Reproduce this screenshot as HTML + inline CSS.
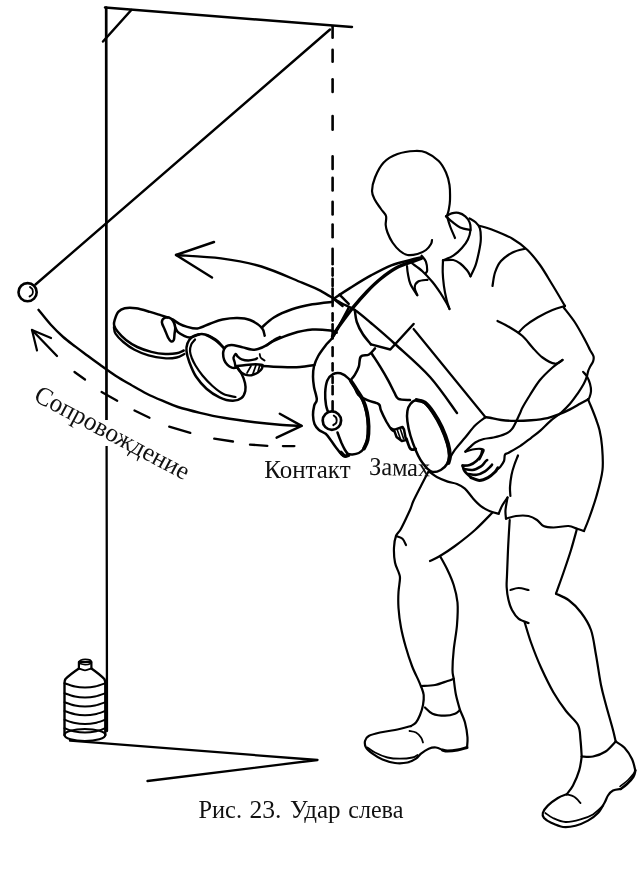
<!DOCTYPE html>
<html><head><meta charset="utf-8"><title>Рис. 23. Удар слева</title>
<style>
html,body{margin:0;padding:0;background:#fff;}
body{width:641px;height:871px;overflow:hidden;font-family:"Liberation Serif",serif;}
svg{display:block}
svg path,svg line,svg circle,svg ellipse{fill:none;stroke:#000;stroke-linecap:round;stroke-linejoin:round}
svg text{font-family:"Liberation Serif",serif;fill:#111;stroke:none}
#txt{opacity:.999;will-change:opacity}
</style></head><body>
<svg width="641" height="871" viewBox="0 0 641 871">
<rect x="0" y="0" width="641" height="871" fill="#fff" stroke="none"/>
<path d="M106.2 7.5L106.5 420.0" stroke-width="2.7" stroke-linecap="butt"/>
<path d="M106.6 446.0L107.0 731.0" stroke-width="2.3" stroke-linecap="butt"/>
<path d="M105.0 7.4L352.0 27.0" stroke-width="2.5" />
<path d="M103.0 41.5L131.3 10.0" stroke-width="2.5" />
<path d="M35.5 284.5L330.0 29.5" stroke-width="2.4" />
<path d="M332.6 26.3L332.6 37.7" stroke-width="2.6" stroke-linecap="butt"/>
<path d="M332.6 49.8L332.6 61.7" stroke-width="2.6" stroke-linecap="butt"/>
<path d="M332.6 79.3L332.6 92.0" stroke-width="2.6" stroke-linecap="butt"/>
<path d="M332.6 116.0L332.6 129.8" stroke-width="2.6" stroke-linecap="butt"/>
<path d="M332.6 156.4L332.6 169.0" stroke-width="2.6" stroke-linecap="butt"/>
<path d="M332.6 177.8L332.6 190.5" stroke-width="2.6" stroke-linecap="butt"/>
<path d="M332.6 201.8L332.6 214.4" stroke-width="2.6" stroke-linecap="butt"/>
<path d="M332.6 224.5L332.6 237.2" stroke-width="2.6" stroke-linecap="butt"/>
<path d="M332.6 248.8L332.6 264.3" stroke-width="2.6" stroke-linecap="butt"/>
<path d="M332.6 268.4L332.6 275.6" stroke-width="2.6" stroke-linecap="butt"/>
<path d="M332.6 278.7L332.6 286.0" stroke-width="2.6" stroke-linecap="butt"/>
<path d="M332.6 288.6L332.6 294.7" stroke-width="2.6" stroke-linecap="butt"/>
<path d="M332.6 296.3L332.6 306.0" stroke-width="2.6" stroke-linecap="butt"/>
<path d="M332.6 313.3L332.6 320.6" stroke-width="2.6" stroke-linecap="butt"/>
<path d="M332.6 324.2L332.6 338.4" stroke-width="2.6" stroke-linecap="butt"/>
<path d="M332.6 347.2L332.6 356.0" stroke-width="2.6" stroke-linecap="butt"/>
<path d="M332.6 363.2L332.6 370.5" stroke-width="2.6" stroke-linecap="butt"/>
<path d="M332.6 376.7L332.6 382.9" stroke-width="2.6" stroke-linecap="butt"/>
<path d="M332.6 386.0L332.6 394.2" stroke-width="2.6" stroke-linecap="butt"/>
<path d="M332.6 401.4L332.6 411.5" stroke-width="2.6" stroke-linecap="butt"/>
<path d="M70.0 740.7L317.5 760.0L147.5 781.0" stroke-width="2.3" />
<path d="M36.7 292.2A9.1 9.1 0 1 1 18.5 292.2A9.1 9.1 0 1 1 36.7 292.2Z" stroke-width="2.6" />
<path d="M30.0 287.0C30.4 287.4 32.1 288.3 32.5 289.5C32.9 290.7 33.0 292.8 32.5 294.0C32.0 295.2 30.0 296.1 29.5 296.5" stroke-width="1.8" />
<path d="M341.1 420.6A9.2 9.2 0 1 1 322.7 420.6A9.2 9.2 0 1 1 341.1 420.6Z" stroke-width="2.7" fill="#fff" style="fill:#fff"/>
<path d="M333.8 415.6C334.2 416.0 335.9 416.9 336.3 418.1C336.7 419.3 336.8 421.4 336.3 422.6C335.8 423.8 333.8 424.7 333.3 425.1" stroke-width="2" />
<path d="M176.0 255.0C183.5 255.6 206.8 256.5 221.0 258.4C235.2 260.3 247.9 262.4 261.4 266.5C274.9 270.6 292.2 278.7 302.0 282.7C311.8 286.7 313.9 287.2 320.3 290.6C326.7 294.0 334.9 299.6 340.6 302.8C346.4 306.0 349.7 306.6 354.8 310.0C359.9 313.4 364.3 317.3 371.0 323.0C377.7 328.7 385.2 335.0 395.0 344.0C404.8 353.0 419.7 365.5 430.0 377.0C440.3 388.5 452.5 407.0 457.0 413.0" stroke-width="2.4" />
<path d="M214.0 242.0L176.0 255.0L212.0 277.5" stroke-width="2.4" />
<path d="M38.5 309.8C40.5 312.2 46.5 320.0 50.6 324.5C54.7 329.0 59.0 333.3 63.2 337.0C67.4 340.7 71.7 343.7 75.8 346.9C79.9 350.1 84.0 353.0 88.0 356.0C92.0 359.0 95.4 361.5 100.0 364.8C104.6 368.1 110.4 372.3 115.6 375.7C120.8 379.1 126.0 382.0 131.2 385.0C136.4 388.0 141.6 391.1 146.8 393.7C152.0 396.3 157.2 398.5 162.4 400.7C167.6 402.9 171.7 405.0 178.0 407.0C184.3 409.0 192.4 411.0 200.0 412.8C207.6 414.6 214.5 416.2 223.6 417.8C232.7 419.4 245.4 421.1 254.8 422.3C264.2 423.5 272.0 424.2 279.8 424.8C287.6 425.4 298.0 425.7 301.6 425.9" stroke-width="2.4" />
<path d="M279.8 413.7L301.6 425.9L276.6 437.7" stroke-width="2.4" />
<path d="M51.0 338.0L32.0 330.0L37.0 350.5" stroke-width="2.2" />
<path d="M32.0 330.0L57.0 356.0" stroke-width="2.3" stroke-linecap="butt"/>
<path d="M74.5 372.0L85.0 379.5" stroke-width="2.3" stroke-linecap="butt"/>
<path d="M101.6 392.0L117.2 400.7" stroke-width="2.3" stroke-linecap="butt"/>
<path d="M134.5 410.5L149.5 417.7" stroke-width="2.3" stroke-linecap="butt"/>
<path d="M169.2 426.6L190.3 432.9" stroke-width="2.3" stroke-linecap="butt"/>
<path d="M214.2 438.7L233.0 441.5" stroke-width="2.3" stroke-linecap="butt"/>
<path d="M250.0 444.6L267.3 445.8" stroke-width="2.3" stroke-linecap="butt"/>
<path d="M282.9 446.1L294.4 446.1" stroke-width="2.3" stroke-linecap="butt"/>
<path d="M78.9 668.5L78.9 662.0L91.4 662.0L91.4 668.5" stroke-width="2.2" />
<path d="M78.9 662A6.25 2.6 0 1 1 91.4 662A6.25 2.6 0 1 1 78.9 662Z" stroke-width="1.7" />
<path d="M78.9 668.5C79.9 668.8 82.9 670.3 85.0 670.3C87.1 670.3 90.3 668.8 91.4 668.5" stroke-width="1.8" />
<path d="M78.9 668.5Q70 674.5 65.5 679Q64.5 680.5 64.5 683L64.5 735" stroke-width="2.4" />
<path d="M91.4 668.5Q100 674.5 104.3 679Q105.3 680.5 105.3 683L105.3 735" stroke-width="2.4" />
<path d="M64.5 683.2C66.2 683.8 71.6 685.8 75.0 686.5C78.4 687.2 81.7 687.4 85.0 687.4C88.3 687.4 91.6 687.2 95.0 686.5C98.4 685.8 103.6 683.8 105.3 683.2" stroke-width="2" />
<path d="M64.5 693.2C66.2 693.8 71.6 695.8 75.0 696.5C78.4 697.2 81.7 697.4 85.0 697.4C88.3 697.4 91.6 697.2 95.0 696.5C98.4 695.8 103.6 693.8 105.3 693.2" stroke-width="2" />
<path d="M64.5 702.2C66.2 702.8 71.6 704.8 75.0 705.5C78.4 706.2 81.7 706.4 85.0 706.4C88.3 706.4 91.6 706.2 95.0 705.5C98.4 704.8 103.6 702.8 105.3 702.2" stroke-width="2" />
<path d="M64.5 711.0C66.2 711.5 71.6 713.6 75.0 714.3C78.4 715.0 81.7 715.2 85.0 715.2C88.3 715.2 91.6 715.0 95.0 714.3C98.4 713.6 103.6 711.5 105.3 711.0" stroke-width="2" />
<path d="M64.5 719.8C66.2 720.3 71.6 722.4 75.0 723.1C78.4 723.8 81.7 724.0 85.0 724.0C88.3 724.0 91.6 723.8 95.0 723.1C98.4 722.4 103.6 720.3 105.3 719.8" stroke-width="2" />
<path d="M64.5 728.3C66.2 728.8 71.6 730.9 75.0 731.6C78.4 732.3 81.7 732.5 85.0 732.5C88.3 732.5 91.6 732.3 95.0 731.6C98.4 730.9 103.6 728.8 105.3 728.3" stroke-width="2" />
<path d="M64.5 735A20.4 6 0 1 0 105.3 735A20.4 6 0 1 0 64.5 735Z" stroke-width="2.2" />
<path d="M447.0 216.0C447.3 215.0 448.2 212.7 448.7 210.0C449.2 207.3 449.9 204.2 450.0 200.0C450.1 195.8 450.2 189.6 449.5 185.0C448.8 180.4 447.8 176.5 446.0 172.5C444.2 168.5 442.0 164.3 438.7 161.0C435.4 157.7 429.9 154.2 426.0 152.5C422.1 150.8 419.8 150.8 415.0 151.0C410.2 151.2 402.7 152.1 397.5 154.0C392.3 155.9 387.4 158.6 383.7 162.5C379.9 166.4 376.9 172.8 375.0 177.5C373.1 182.2 372.0 187.2 372.0 191.0C372.0 194.8 373.5 197.0 375.0 200.0C376.5 203.0 379.2 206.3 381.0 209.0C382.8 211.7 385.2 213.3 386.0 216.0C386.8 218.7 385.4 222.2 385.7 225.0C385.9 227.8 386.4 229.6 387.5 232.5C388.6 235.4 390.4 239.4 392.5 242.5C394.6 245.6 397.5 248.9 400.0 251.0C402.5 253.1 404.6 254.5 407.5 255.0C410.4 255.5 414.4 254.8 417.5 254.0C420.6 253.2 423.8 251.7 426.0 250.0C428.2 248.3 430.0 245.7 431.0 244.0C432.0 242.3 431.8 240.7 432.0 240.0" stroke-width="2.2" />
<path d="M447.0 216.0C447.5 217.7 448.7 222.3 450.0 226.0C451.3 229.7 454.2 236.0 455.0 238.0" stroke-width="2.2" />
<path d="M446.0 216.3C446.9 215.8 449.5 214.0 451.6 213.4C453.7 212.8 456.2 212.4 458.5 212.9C460.8 213.4 463.4 214.7 465.3 216.3C467.2 217.9 468.7 220.0 469.6 222.3C470.5 224.6 470.8 227.1 470.5 230.0C470.2 232.9 469.3 236.5 467.9 239.5C466.5 242.5 464.3 245.3 461.9 248.0C459.5 250.7 456.4 253.6 453.3 255.7C450.2 257.8 444.7 259.6 443.0 260.4" stroke-width="2.2" />
<path d="M446.0 216.3C446.9 217.2 449.2 219.6 451.6 221.4C454.0 223.2 457.1 226.0 460.2 227.4C463.3 228.8 468.8 229.6 470.5 230.0" stroke-width="2.2" />
<path d="M469.5 218.5C470.5 219.1 473.9 220.7 475.6 222.3C477.3 223.9 479.0 225.4 479.9 228.3C480.8 231.2 480.9 235.6 480.8 239.5C480.7 243.4 479.9 247.2 479.0 251.5C478.1 255.8 477.0 261.1 475.6 265.2C474.2 269.3 471.4 274.4 470.5 276.3" stroke-width="2.2" />
<path d="M470.5 276.3C469.9 275.3 468.7 272.4 467.0 270.3C465.3 268.2 462.5 265.2 460.2 263.5C457.9 261.8 456.2 260.5 453.3 260.0C450.4 259.5 444.7 260.3 443.0 260.4" stroke-width="2.2" />
<path d="M443.0 260.4C442.9 262.3 442.6 267.8 442.7 272.0C442.8 276.2 443.3 281.2 443.9 285.8C444.5 290.4 445.6 295.6 446.5 299.5C447.4 303.4 449.0 307.4 449.5 309.0" stroke-width="2.2" />
<path d="M479.0 225.7C481.0 226.3 485.4 227.0 491.0 229.2C496.6 231.4 506.4 235.2 512.5 238.7C518.6 242.2 522.9 245.6 527.5 250.0C532.1 254.4 535.8 259.2 540.0 265.0C544.2 270.8 548.3 278.2 552.5 285.0C556.7 291.8 562.9 302.5 565.0 306.0" stroke-width="2.2" />
<path d="M407.0 266.0C407.1 267.3 407.3 270.8 407.9 273.8C408.5 276.8 408.8 280.4 410.4 284.0C412.0 287.6 416.1 293.3 417.3 295.2" stroke-width="2.2" />
<path d="M417.3 295.2C416.9 293.9 414.6 289.8 414.7 287.5C414.8 285.2 416.0 282.8 418.2 281.5C420.4 280.2 426.0 280.1 427.6 279.8" stroke-width="2.2" />
<path d="M421.6 255.7C422.3 256.7 425.0 259.3 425.9 261.7C426.8 264.1 427.2 268.4 427.2 270.3C427.2 272.2 426.1 272.6 425.9 273.0" stroke-width="2.2" />
<path d="M412.2 263.5C413.9 264.8 419.0 268.1 422.4 271.2C425.8 274.3 429.5 278.4 432.7 282.3C435.9 286.2 439.0 290.9 441.3 294.3C443.6 297.8 445.1 300.6 446.5 303.0C447.9 305.4 449.0 308.0 449.5 309.0" stroke-width="2.2" />
<path d="M565.0 306.0C562.9 306.7 557.1 308.1 552.5 310.0C547.9 311.9 542.1 314.8 537.5 317.5C532.9 320.2 528.1 323.5 525.0 326.0C521.9 328.5 519.8 331.4 518.7 332.5" stroke-width="2.2" />
<path d="M525.0 248.7C522.9 249.3 516.5 250.4 512.5 252.5C508.5 254.6 503.9 257.7 501.0 261.0C498.1 264.3 496.4 268.3 495.0 272.5C493.6 276.7 492.9 283.8 492.5 286.0" stroke-width="2.2" />
<path d="M497.5 321.0C499.6 322.1 505.8 325.0 510.0 327.5C514.2 330.0 518.8 332.7 522.5 336.0C526.2 339.3 529.2 343.9 532.5 347.5C535.8 351.1 538.8 354.8 542.5 357.5C546.2 360.2 551.7 363.3 555.0 363.7C558.3 364.1 561.2 360.6 562.5 360.0" stroke-width="2.2" />
<path d="M562.5 360.0C560.8 361.2 556.2 364.2 552.5 367.5C548.8 370.8 543.8 375.4 540.0 380.0C536.2 384.6 532.9 390.4 530.0 395.0C527.1 399.6 524.2 404.4 522.5 407.5C520.8 410.6 521.5 410.2 519.8 413.7C518.1 417.2 514.8 425.3 512.3 428.7C509.8 432.1 508.1 432.5 505.0 434.0C501.9 435.5 497.1 436.7 493.5 437.5C489.9 438.3 486.7 438.2 483.7 439.0C480.7 439.8 477.6 441.1 475.3 442.5C473.0 443.9 471.4 445.9 469.7 447.4C468.0 448.9 466.1 450.9 465.4 451.6" stroke-width="2.2" />
<path d="M563.7 307.5C565.6 310.0 571.5 317.1 575.0 322.5C578.5 327.9 582.5 335.4 585.0 340.0C587.5 344.6 588.6 347.3 590.0 350.0C591.4 352.7 593.0 354.4 593.5 356.3C594.0 358.2 593.7 359.5 593.1 361.3C592.5 363.1 590.8 365.2 590.0 366.9C589.2 368.6 588.6 369.7 588.1 371.3C587.6 372.9 587.6 374.2 586.9 376.3C586.2 378.4 585.4 380.9 583.8 383.8C582.2 386.7 579.8 390.5 577.5 393.8C575.2 397.1 572.7 400.7 570.0 403.8C567.3 406.9 564.6 409.6 561.3 412.5C558.0 415.4 553.5 418.3 550.0 421.3C546.5 424.3 543.7 427.6 540.6 430.3C537.5 433.1 534.6 435.2 531.2 437.8C527.8 440.4 523.8 443.7 520.0 446.2C516.2 448.7 511.2 451.3 508.7 452.7C506.2 454.1 505.8 453.2 505.0 454.6C504.2 456.0 504.8 459.0 504.0 461.0C503.2 463.0 501.3 465.5 500.3 466.8C499.3 468.1 498.2 468.6 497.8 469.0" stroke-width="2.2" />
<path d="M583.1 371.9C583.7 372.6 585.8 374.3 586.9 376.3C588.0 378.3 589.3 381.3 590.0 383.8C590.7 386.3 591.1 389.0 591.0 391.3C590.9 393.6 589.9 396.1 589.4 397.5C588.9 398.9 588.3 399.1 588.1 399.4" stroke-width="2.2" />
<path d="M588.1 399.4C586.8 400.1 583.0 402.1 580.0 403.8C577.0 405.5 573.5 407.6 570.0 409.4C566.5 411.2 562.5 412.9 558.8 414.4C555.0 415.8 552.1 417.1 547.5 418.1C542.9 419.1 536.7 419.8 531.2 420.3C525.7 420.8 519.3 420.9 514.3 420.9C509.3 420.8 505.2 420.5 501.2 420.0C497.1 419.5 492.6 418.3 490.0 417.8C487.4 417.3 486.2 417.3 485.5 417.2" stroke-width="2.4" />
<path d="M588.1 399.4C588.8 401.2 591.1 406.6 592.5 410.0C593.9 413.4 595.1 416.7 596.3 420.0C597.5 423.3 598.5 425.7 599.5 430.0C600.5 434.3 601.5 439.3 602.0 446.0C602.5 452.7 603.4 461.7 602.5 470.0C601.6 478.3 598.8 487.9 596.5 496.0C594.2 504.1 591.1 512.7 589.0 518.5C586.9 524.3 584.8 528.9 584.0 531.0" stroke-width="2.2" />
<path d="M518.0 455.5C517.4 457.1 515.4 461.8 514.3 465.0C513.2 468.2 512.2 471.3 511.5 475.0C510.8 478.7 510.2 483.5 510.0 487.0C509.8 490.5 510.3 494.5 510.4 496.0" stroke-width="2.2" />
<path d="M465.4 451.6C466.6 451.2 470.0 450.0 472.5 449.5C475.0 449.0 478.3 448.7 480.2 448.8C482.1 448.9 483.5 449.2 483.7 450.2C483.9 451.2 482.3 453.5 481.6 455.0C480.9 456.5 479.9 458.6 479.5 459.3" stroke-width="2.2" />
<path d="M462.6 465.6C463.8 465.5 467.4 465.8 469.7 465.0C472.0 464.2 474.8 462.4 476.7 460.7C478.6 459.0 480.1 456.8 481.0 455.0C481.9 453.2 482.1 451.0 482.3 450.2" stroke-width="2.6" />
<path d="M464.0 469.0C465.4 469.2 469.7 470.4 472.5 470.0C475.3 469.6 478.9 467.6 481.0 466.3C483.1 465.0 484.0 463.1 485.0 462.0C486.0 460.9 486.8 460.3 487.2 460.0" stroke-width="2.6" />
<path d="M468.3 474.0C469.7 474.1 473.9 475.2 476.7 474.8C479.5 474.4 482.7 472.7 485.0 471.3C487.3 469.9 489.5 467.4 490.7 466.3C491.9 465.2 491.8 465.0 492.0 464.7" stroke-width="2.6" />
<path d="M471.0 477.6C472.4 478.1 476.7 480.4 479.5 480.4C482.3 480.4 485.4 479.0 488.0 477.6C490.6 476.2 493.4 473.6 495.0 472.0C496.6 470.4 497.3 468.5 497.8 467.8" stroke-width="3" />
<path d="M462.6 465.6C462.9 466.5 463.1 469.0 464.5 471.0C465.9 473.0 469.9 476.5 471.0 477.6" stroke-width="2.6" />
<path d="M413.6 329.0L485.5 417.2" stroke-width="2.2" />
<path d="M485.5 417.2C483.8 418.6 478.7 421.9 475.3 425.3C471.9 428.7 468.6 433.4 465.2 437.5C461.8 441.6 457.7 446.0 455.0 449.7C452.3 453.4 450.0 458.1 449.0 459.8" stroke-width="2.2" />
<path d="M584.0 531.0C582.8 530.6 579.6 529.5 577.0 528.7C574.4 527.9 572.4 526.2 568.5 526.0C564.6 525.8 557.7 527.5 553.5 527.5C549.3 527.5 546.2 527.2 543.5 526.0C540.8 524.8 539.5 521.7 537.0 520.0C534.5 518.3 532.0 516.7 528.5 516.0C525.0 515.3 519.8 515.5 516.0 516.0C512.2 516.5 507.7 518.2 506.0 518.7" stroke-width="2.2" />
<path d="M506.0 518.7C505.9 517.2 505.2 513.5 505.5 510.0C505.8 506.5 507.2 499.6 507.5 497.5" stroke-width="2.2" />
<path d="M507.5 497.5C506.7 498.8 504.0 502.3 502.5 505.0C501.0 507.7 499.3 512.2 498.7 513.7" stroke-width="2.2" />
<path d="M498.7 513.7C497.2 513.3 493.0 512.6 490.0 511.3C487.0 510.0 483.4 508.0 480.5 505.8C477.6 503.6 475.3 500.9 472.7 498.0C470.1 495.1 467.5 490.9 464.9 488.6C462.3 486.3 459.9 485.2 457.0 484.0C454.1 482.8 451.1 482.8 447.7 481.6C444.3 480.4 439.9 478.7 436.8 477.0C433.7 475.3 430.3 472.4 429.0 471.5" stroke-width="2.2" />
<path d="M428.5 471.5C427.3 473.8 423.7 480.6 421.2 485.5C418.7 490.4 415.3 496.9 413.4 501.0C411.5 505.1 412.1 505.4 410.0 510.0C407.9 514.6 403.3 524.4 401.0 528.7C398.7 533.0 397.2 532.9 396.0 536.0C394.8 539.1 394.2 543.1 394.0 547.5C393.8 551.9 394.2 558.3 395.0 562.5C395.8 566.7 397.9 569.9 398.7 572.5C399.5 575.1 400.0 574.8 400.0 578.0C400.0 581.2 398.8 587.0 398.5 592.0C398.2 597.0 398.1 602.1 398.5 608.0C398.9 613.9 399.8 621.0 401.0 627.5C402.2 634.0 403.9 640.4 405.7 646.8C407.5 653.2 409.9 660.4 412.0 666.0C414.1 671.6 417.1 677.2 418.6 680.6C420.1 684.0 420.6 685.5 421.0 686.5" stroke-width="2.2" />
<path d="M396.0 536.0C397.1 536.5 400.8 537.2 402.5 538.7C404.2 540.2 405.4 544.0 406.0 545.0" stroke-width="2.2" />
<path d="M492.5 512.5C489.6 515.4 481.2 524.4 475.0 530.0C468.8 535.6 460.8 541.7 455.0 546.0C449.2 550.3 444.2 553.5 440.0 556.0C435.8 558.5 431.7 560.2 430.0 561.0" stroke-width="2.2" />
<path d="M440.0 556.0C441.2 558.3 445.2 565.2 447.5 570.0C449.8 574.8 452.0 579.6 453.7 585.0C455.4 590.4 456.9 595.8 457.5 602.5C458.1 609.2 457.6 617.1 457.0 625.0C456.4 632.9 454.4 642.5 453.7 650.0C452.9 657.5 452.5 665.2 452.5 670.0C452.5 674.8 453.1 674.5 453.7 678.7C454.3 682.9 454.9 689.8 456.0 695.0C457.1 700.2 459.3 707.5 460.0 710.0" stroke-width="2.2" />
<path d="M421.0 686.0C423.3 685.8 430.6 685.8 435.0 685.0C439.4 684.2 444.4 682.0 447.5 681.0C450.6 680.0 452.7 679.1 453.7 678.7" stroke-width="2.2" />
<path d="M421.0 686.0C421.4 687.5 423.4 691.8 423.7 695.0C424.0 698.2 423.6 701.7 423.0 705.0C422.4 708.3 421.2 712.1 420.0 715.0C418.8 717.9 417.5 720.7 416.0 722.5C414.5 724.3 411.8 725.4 411.0 726.0" stroke-width="2.2" />
<path d="M425.0 707.5C426.2 708.5 429.2 712.3 432.5 713.7C435.8 715.1 441.2 715.7 445.0 715.7C448.8 715.7 452.5 714.7 455.0 713.7C457.5 712.8 459.2 710.6 460.0 710.0" stroke-width="2.2" />
<path d="M460.0 710.0C460.8 712.1 463.8 717.9 465.0 722.5C466.2 727.1 467.2 733.3 467.5 737.5C467.8 741.7 467.1 745.8 467.0 747.5" stroke-width="2.2" />
<path d="M467.0 747.5C465.4 747.9 460.8 749.4 457.5 750.0C454.2 750.6 450.0 751.0 447.5 751.0C445.0 751.0 443.3 750.2 442.5 750.0" stroke-width="3" />
<path d="M442.5 750.0C441.4 749.6 438.3 747.7 436.0 747.5C433.7 747.3 431.2 747.7 428.7 748.7C426.2 749.7 423.1 752.0 421.0 753.7C418.9 755.4 418.2 757.2 416.0 758.7C413.8 760.2 411.0 761.8 407.5 762.5C404.0 763.2 399.2 763.5 395.0 763.0C390.8 762.5 386.2 761.0 382.5 759.5C378.8 758.0 375.2 755.7 372.5 753.7C369.8 751.7 367.2 749.6 366.0 747.5C364.8 745.4 364.6 742.9 365.0 741.0C365.4 739.1 366.2 737.4 368.7 736.0C371.2 734.6 375.6 733.5 380.0 732.5C384.4 731.5 389.8 731.1 395.0 730.0C400.2 728.9 408.3 726.7 411.0 726.0" stroke-width="2.2" />
<path d="M367.5 747.5C368.8 748.3 371.7 750.8 375.0 752.5C378.3 754.2 383.3 756.5 387.5 757.5C391.7 758.5 395.8 758.7 400.0 758.7C404.2 758.7 409.6 758.1 412.5 757.5C415.4 756.9 416.7 755.4 417.5 755.0" stroke-width="1.8" />
<path d="M409.5 731.0C410.6 731.2 414.1 731.4 416.0 732.5C417.9 733.6 419.8 735.8 421.0 737.5C422.2 739.2 422.7 741.7 423.0 742.5" stroke-width="1.8" />
<path d="M509.7 520.0C509.4 525.0 508.4 540.8 508.0 550.0C507.6 559.2 507.2 568.8 507.0 575.0C506.8 581.2 506.4 583.3 506.7 587.5C506.9 591.7 507.6 596.2 508.5 600.0C509.4 603.8 510.3 606.9 512.0 610.0C513.7 613.1 515.8 616.5 518.5 618.7C521.2 620.9 526.8 622.3 528.5 623.0" stroke-width="2.2" />
<path d="M510.5 590.0C511.8 589.7 515.5 588.0 518.5 588.0C521.5 588.0 526.8 589.7 528.5 590.0" stroke-width="2.2" />
<path d="M524.7 622.5C525.8 625.8 528.3 635.0 531.0 642.5C533.7 650.0 537.2 659.2 541.0 667.5C544.8 675.8 549.3 685.2 553.5 692.5C557.7 699.8 561.9 705.6 566.0 711.0C570.1 716.4 575.6 720.2 578.0 725.0C580.4 729.8 579.9 734.8 580.5 740.0C581.1 745.2 581.5 753.8 581.7 756.5" stroke-width="2.2" />
<path d="M577.0 528.7C576.0 532.2 573.2 542.7 571.0 550.0C568.8 557.3 566.0 565.2 563.5 572.5C561.0 579.8 557.2 590.2 556.0 593.7" stroke-width="2.2" />
<path d="M556.0 593.7C558.1 594.8 564.3 596.9 568.5 600.0C572.7 603.1 577.2 607.5 581.0 612.5C584.8 617.5 588.5 622.9 591.0 630.0C593.5 637.1 594.3 645.8 596.0 655.0C597.7 664.2 599.3 676.7 601.0 685.0C602.7 693.3 604.0 697.5 606.0 705.0C608.0 712.5 611.4 723.9 613.0 730.0C614.6 736.1 615.2 739.6 615.7 741.5" stroke-width="2.2" />
<path d="M581.7 756.5C583.6 756.5 589.0 757.3 593.0 756.5C597.0 755.7 601.8 754.0 605.6 751.5C609.4 749.0 614.0 743.2 615.7 741.5" stroke-width="2.2" />
<path d="M615.7 741.5C617.2 742.5 621.8 744.9 624.5 747.8C627.2 750.7 630.2 755.2 632.0 759.0C633.8 762.8 634.8 768.5 635.3 770.4" stroke-width="2.2" />
<path d="M635.3 770.4C635.0 771.5 634.7 774.4 633.3 776.7C631.9 779.0 629.1 782.0 627.0 784.0C624.9 786.0 621.8 788.2 620.7 789.0" stroke-width="2.6" />
<path d="M620.7 789.0C619.4 789.2 615.1 789.4 613.0 790.5C610.9 791.6 609.4 793.4 608.0 795.5C606.6 797.6 606.1 800.1 604.4 803.0C602.7 805.9 600.7 810.1 598.0 813.0C595.3 815.9 591.8 818.5 588.0 820.6C584.2 822.7 579.7 824.6 575.5 825.7C571.3 826.8 567.0 827.5 563.0 827.0C559.0 826.5 554.8 824.5 551.6 823.0C548.4 821.5 545.5 819.7 544.0 818.0C542.5 816.3 542.2 815.1 542.8 813.0C543.4 810.9 545.3 808.1 547.8 805.6C550.3 803.1 554.8 799.9 557.9 798.0C561.0 796.1 565.2 794.9 566.7 794.3" stroke-width="2.2" />
<path d="M581.7 756.5C581.3 758.8 580.7 765.6 579.2 770.4C577.8 775.2 575.1 781.5 573.0 785.5C570.9 789.5 567.8 792.8 566.7 794.3" stroke-width="2.2" />
<path d="M566.7 794.3C568.0 794.7 571.9 795.3 574.2 796.8C576.5 798.2 579.5 802.0 580.5 803.0" stroke-width="1.8" />
<path d="M545.3 813.0C546.6 813.8 549.5 816.5 552.9 818.0C556.2 819.5 560.8 821.8 565.4 822.0C570.0 822.2 575.9 820.7 580.5 819.4C585.1 818.1 589.2 816.7 593.0 814.4C596.8 812.1 601.3 807.1 603.0 805.6" stroke-width="1.8" />
<path d="M634.5 772.5C633.4 773.8 630.4 777.7 628.0 780.0C625.6 782.3 621.3 785.4 620.0 786.5" stroke-width="1.6" />
<path d="M333.5 298.8C336.4 296.9 344.4 291.5 350.7 287.6C356.9 283.7 364.2 279.1 371.0 275.4C377.8 271.7 384.9 267.8 391.3 265.3C397.7 262.8 404.4 261.6 409.5 260.2C414.6 258.8 419.7 257.7 421.7 257.2" stroke-width="2.5" />
<path d="M332.5 336.3C333.9 334.2 337.2 328.7 340.6 324.0C344.0 319.3 348.3 313.3 352.7 307.9C357.1 302.5 362.2 296.6 366.9 291.7C371.6 286.8 375.9 282.6 381.0 278.5C386.1 274.4 392.0 270.2 397.4 267.3C402.8 264.4 409.6 262.7 413.6 261.2C417.7 259.7 420.4 258.7 421.7 258.2" stroke-width="3.4" />
<path d="M333.5 298.8L342.6 305.9" stroke-width="2.5" />
<path d="M339.5 294.7L348.7 303.8" stroke-width="2.5" />
<path d="M354.8 310.0C355.1 312.0 355.5 318.0 356.8 322.0C358.1 326.0 360.5 330.5 362.9 334.2C365.3 337.9 369.6 342.7 371.0 344.4" stroke-width="2.5" />
<path d="M413.6 324.0L390.3 349.5L371.0 344.4" stroke-width="2.5" />
<path d="M375.0 348.4C374.0 349.4 371.4 353.1 369.0 354.5C366.6 355.9 362.5 354.6 360.8 356.6C359.1 358.6 359.8 363.7 358.8 366.7C357.8 369.7 356.2 372.6 354.8 374.8C353.4 377.0 351.4 379.1 350.7 380.0" stroke-width="2.5" />
<path d="M348.7 307.9C347.2 310.6 342.7 319.1 340.0 324.0C337.3 328.9 335.1 333.8 332.7 337.4C330.3 341.0 327.8 342.6 325.4 345.7C323.0 348.8 320.1 352.6 318.2 356.0C316.3 359.4 314.9 362.9 314.0 366.3C313.1 369.8 313.0 373.2 313.0 376.7C313.0 380.1 313.4 383.2 314.0 387.0C314.6 390.8 316.8 396.3 316.8 399.4C316.8 402.5 314.8 403.0 314.2 405.6C313.6 408.2 312.9 411.9 313.0 415.0C313.1 418.1 313.5 421.5 314.5 424.0C315.5 426.5 317.1 428.4 319.0 430.0C320.9 431.6 323.7 432.1 325.7 433.8C327.7 435.6 329.3 438.2 331.0 440.5C332.7 442.8 334.2 445.1 336.0 447.5C337.8 449.9 340.1 453.1 341.7 454.6C343.3 456.1 345.0 456.3 345.7 456.6" stroke-width="2.5" />
<path d="M328.0 412.0C327.7 410.8 326.5 408.2 326.0 405.0C325.5 401.8 325.0 396.8 325.2 392.7C325.4 388.6 326.0 383.7 327.3 380.6C328.6 377.5 330.8 375.4 333.0 374.2C335.2 373.0 337.9 372.6 340.5 373.3C343.1 374.0 345.9 375.8 348.5 378.5C351.1 381.2 353.7 385.9 356.0 389.5C358.3 393.1 360.8 396.2 362.5 400.0C364.2 403.8 365.6 408.1 366.5 412.5C367.4 416.9 367.9 421.7 368.0 426.3C368.1 430.9 367.8 436.2 367.0 440.0C366.2 443.8 364.9 446.6 363.5 448.8C362.1 451.0 360.6 452.1 358.8 453.0C357.0 453.9 354.3 454.3 352.5 454.4C350.7 454.5 349.2 454.5 348.0 453.8C346.8 453.1 346.1 451.9 345.0 450.0C343.9 448.1 342.6 445.4 341.3 442.5C340.1 439.6 338.1 434.2 337.5 432.5" stroke-width="2.5" />
<path d="M351.0 381.0C351.9 382.4 354.5 386.3 356.5 389.5C358.5 392.7 361.2 396.2 363.0 400.0C364.8 403.8 366.1 408.1 367.0 412.5C367.9 416.9 368.5 421.7 368.6 426.3C368.7 430.9 368.4 436.3 367.6 440.0C366.8 443.7 364.6 447.1 364.0 448.5" stroke-width="3.8" />
<path d="M341.0 452.5C341.6 453.1 343.4 455.6 344.6 456.0C345.9 456.4 347.9 455.3 348.5 455.2" stroke-width="3.6" />
<path d="M372.0 354.0C373.3 356.1 377.3 362.0 380.0 366.4C382.7 370.8 385.9 376.2 388.3 380.6C390.7 385.0 392.7 389.7 394.4 392.7C396.1 395.7 395.8 397.6 398.4 398.8C401.0 400.0 408.1 399.8 410.0 400.0" stroke-width="2.5" />
<path d="M355.0 388.0C355.6 389.1 356.1 392.7 358.3 394.8C360.5 396.9 365.1 399.1 368.0 400.4C370.9 401.7 374.1 402.0 376.0 402.8C377.9 403.6 378.7 403.7 379.5 405.0C380.3 406.3 379.9 407.8 381.0 410.5C382.1 413.2 384.6 418.3 386.3 421.5C388.1 424.7 390.2 427.9 391.5 429.5C392.8 431.1 393.6 430.8 394.0 431.0" stroke-width="2.5" />
<path d="M391.0 428.3L394.0 429.9L402.5 427.0L404.0 429.5L406.0 440.0L401.8 441.0L396.5 436.9L394.0 429.9" stroke-width="2.5" />
<path d="M397.5 430.5L400.5 439.0" stroke-width="1.6" />
<path d="M400.5 429.5L403.5 438.5" stroke-width="1.6" />
<path d="M406.4 438.7C406.9 440.1 408.6 445.5 409.5 447.3C410.4 449.1 410.8 449.3 411.8 449.6C412.8 449.9 415.1 449.0 415.7 448.9" stroke-width="2.8" />
<path d="M426.6 468.0C425.6 466.6 422.4 462.9 420.5 459.8C418.6 456.8 417.2 453.8 415.5 449.7C413.8 445.6 411.8 440.2 410.4 435.5C409.0 430.8 407.9 425.4 407.4 421.3C406.9 417.2 406.9 413.9 407.4 411.0C407.9 408.1 408.9 405.8 410.4 404.0C411.9 402.2 414.1 400.2 416.5 400.0C418.9 399.8 421.9 400.8 424.6 403.0C427.3 405.2 430.0 408.9 432.7 413.0C435.4 417.1 438.4 422.3 440.8 427.4C443.2 432.5 445.6 438.9 447.0 443.6C448.4 448.3 449.0 452.4 449.0 455.8C449.0 459.2 448.4 461.6 447.0 464.0C445.6 466.4 443.2 468.7 440.8 470.0C438.4 471.3 435.1 472.3 432.7 472.0C430.3 471.7 427.6 468.7 426.6 468.0" stroke-width="2.5" />
<path d="M416.5 400.0C417.9 400.4 422.2 400.4 425.0 402.5C427.8 404.6 430.7 408.4 433.5 412.5C436.3 416.6 439.4 421.8 441.8 427.0C444.2 432.2 446.6 438.8 448.0 443.6C449.4 448.4 449.9 452.6 450.0 455.8C450.1 459.0 448.8 461.8 448.5 463.0" stroke-width="3.8" />
<path d="M172.5 319.3C173.7 320.1 177.1 322.6 179.4 323.8C181.7 325.0 183.5 325.8 186.5 326.6C189.5 327.4 193.6 329.0 197.5 328.5C201.4 328.0 205.8 325.2 210.0 323.7C214.2 322.2 217.9 320.4 222.5 319.5C227.1 318.6 232.9 317.9 237.5 318.0C242.1 318.1 246.0 318.4 250.0 320.0C254.0 321.6 259.2 325.0 261.7 327.6C264.1 330.2 264.2 334.4 264.7 335.7" stroke-width="2.5" />
<path d="M261.7 327.6C263.7 325.9 268.8 320.6 273.8 317.5C278.9 314.4 285.6 311.5 292.0 309.3C298.4 307.1 305.6 305.6 312.4 304.3C319.1 303.1 329.1 302.2 332.5 301.8" stroke-width="2.5" />
<path d="M266.8 345.2C268.0 344.5 269.6 342.7 273.8 340.8C278.0 338.9 285.6 335.6 292.0 333.7C298.4 331.8 306.0 330.1 312.4 329.6C318.8 329.1 326.6 330.1 330.6 330.6C334.7 331.1 335.7 332.4 336.7 332.7" stroke-width="2.5" />
<path d="M261.7 366.0C265.1 366.2 275.6 366.8 282.0 367.0C288.4 367.2 294.6 367.3 300.0 367.0C305.4 366.7 312.0 365.3 314.4 365.0" stroke-width="2.5" />
<path d="M183.7 350.5C182.5 351.0 179.6 352.7 176.6 353.3C173.6 353.9 169.6 354.2 165.4 354.0C161.2 353.8 156.0 353.1 151.3 351.9C146.6 350.7 141.5 349.0 137.3 347.0C133.1 345.0 129.3 342.6 126.0 340.0C122.7 337.4 119.6 334.0 117.6 331.5C115.6 329.0 114.6 327.2 114.1 325.2C113.6 323.2 114.1 321.8 114.8 319.6C115.5 317.4 116.6 313.8 118.3 311.9C120.0 310.0 121.8 308.9 124.7 308.3C127.6 307.7 131.7 307.7 135.9 308.3C140.1 308.9 145.8 310.7 150.0 311.9C154.2 313.1 158.3 314.5 161.2 315.4C164.1 316.3 166.4 317.1 167.5 317.5" stroke-width="2.5" />
<path d="M113.9 327.0C114.2 328.1 113.9 331.1 115.5 333.6C117.1 336.1 120.1 339.3 123.3 342.0C126.5 344.7 130.3 347.6 134.5 349.8C138.7 352.0 143.6 354.0 148.5 355.4C153.4 356.8 159.3 357.8 164.0 358.2C168.7 358.6 173.2 358.2 176.6 357.5C180.0 356.8 183.1 354.6 184.4 354.0" stroke-width="2.3" />
<path d="M161.9 322.4C161.8 320.5 162.8 319.0 164.0 318.2C165.2 317.4 167.4 317.0 168.9 317.5C170.4 318.0 172.1 319.4 173.1 321.0C174.1 322.6 175.0 325.1 175.2 327.3C175.4 329.5 174.7 332.2 174.5 334.3C174.3 336.4 174.4 338.8 173.8 340.0C173.2 341.2 171.9 341.7 171.0 341.3C170.1 340.9 169.2 339.8 168.2 337.8C167.1 335.8 165.8 332.0 164.7 329.4C163.6 326.8 162.0 324.3 161.9 322.4Z" stroke-width="2.5" />
<path d="M175.2 327.3C175.7 328.1 176.6 330.8 178.0 332.2C179.4 333.6 181.7 334.8 183.7 335.7C185.7 336.6 187.4 337.7 190.0 337.5C192.6 337.3 197.5 335.0 199.0 334.5" stroke-width="2.5" />
<path d="M207.0 335.0C208.6 335.9 213.6 338.1 216.5 340.3C219.4 342.6 222.9 347.1 224.2 348.5" stroke-width="2.5" />
<path d="M236.8 366.5C237.6 367.8 240.3 371.2 241.7 374.0C243.1 376.8 244.4 380.2 245.0 383.0C245.6 385.8 245.9 388.5 245.3 391.0C244.7 393.5 243.6 396.4 241.5 398.0C239.4 399.6 236.2 400.9 232.5 400.8C228.8 400.7 223.8 399.3 219.5 397.3C215.2 395.3 210.4 392.2 206.5 388.7C202.6 385.2 198.9 380.9 196.0 376.5C193.1 372.1 190.9 366.2 189.3 362.0C187.7 357.8 186.8 354.3 186.5 351.2C186.2 348.1 186.6 345.8 187.4 343.5C188.2 341.2 189.7 339.0 191.5 337.5C193.3 336.0 195.8 335.0 198.0 334.5C200.2 334.0 202.2 333.6 205.0 334.5C207.8 335.4 211.9 337.8 215.0 340.0C218.1 342.2 222.1 346.2 223.5 347.5" stroke-width="2.5" />
<path d="M195.0 339.5C194.4 340.3 192.2 342.2 191.4 344.2C190.6 346.1 189.9 348.8 190.0 351.2C190.1 353.6 191.1 356.1 192.0 358.5C192.9 360.9 193.8 362.7 195.5 365.5C197.2 368.3 199.7 372.1 202.5 375.5C205.3 378.9 209.0 382.9 212.5 386.0C216.0 389.1 219.7 392.2 223.5 394.0C227.3 395.8 233.5 396.5 235.5 397.0" stroke-width="2.2" />
<path d="M224.2 348.5C224.8 348.0 225.9 346.2 227.5 345.7C229.1 345.1 231.4 344.9 234.0 345.2C236.6 345.5 239.9 346.7 242.8 347.4C245.7 348.1 249.0 349.3 251.5 349.6C254.0 349.9 255.4 349.7 258.0 349.0C260.6 348.3 264.1 346.8 266.8 345.2C269.5 343.6 272.2 341.1 274.4 339.7C276.6 338.3 279.1 337.4 280.0 337.0" stroke-width="2.5" />
<path d="M224.2 348.5C224.0 349.3 223.1 351.5 223.1 353.4C223.1 355.3 223.5 358.1 224.2 360.0C224.9 361.9 226.2 363.6 227.5 364.9C228.8 366.2 230.4 367.1 231.8 367.6C233.2 368.1 235.0 367.8 235.7 367.8" stroke-width="2.5" />
<path d="M235.7 367.8C235.5 366.8 235.0 363.7 234.6 362.0C234.2 360.3 233.3 359.1 233.5 357.8C233.7 356.5 235.0 354.2 235.7 354.0C236.4 353.8 236.8 355.8 237.8 356.7C238.8 357.6 240.0 358.8 241.7 359.4C243.4 360.0 246.0 360.5 248.2 360.5C250.4 360.5 253.3 359.8 254.8 359.4C256.3 359.0 256.6 358.5 257.0 358.3" stroke-width="2.4" />
<path d="M236.8 366.0C238.3 365.8 242.8 365.2 246.0 364.9C249.2 364.6 253.2 364.3 255.9 364.3C258.6 364.3 261.3 364.8 262.4 364.9" stroke-width="2.5" />
<path d="M236.8 366.5C237.2 367.2 238.1 369.5 239.5 370.9C240.9 372.3 243.0 374.0 245.0 374.7C247.0 375.4 249.3 375.6 251.5 375.2C253.7 374.8 256.3 373.6 258.0 372.5C259.7 371.4 261.2 369.9 261.9 368.7C262.6 367.5 262.3 365.9 262.4 365.4" stroke-width="2.4" />
<path d="M251.0 366.0L247.0 373.0" stroke-width="1.7" />
<path d="M255.9 365.4L253.0 373.6" stroke-width="1.7" />
<path d="M259.7 365.4L258.0 371.4" stroke-width="1.7" />
<path d="M259.7 354.0C259.9 354.6 260.0 356.7 260.8 357.8C261.6 358.9 264.0 360.1 264.6 360.5" stroke-width="1.8" />
<g id="txt">
<rect x="100" y="420" width="13" height="26" fill="#fff" stroke="none"/>
<text transform="translate(32.6,399.9) rotate(28)" font-size="26" textLength="171.5" lengthAdjust="spacingAndGlyphs">Сопровождение</text>
<text x="264.3" y="478.4" font-size="26" textLength="86.3" lengthAdjust="spacingAndGlyphs">Контакт</text>
<text transform="translate(369,474.8) rotate(1.5)" font-size="25.5" textLength="61" lengthAdjust="spacingAndGlyphs">Замах</text>
<text x="198.5" y="817.7" font-size="26" textLength="43.5" lengthAdjust="spacingAndGlyphs">Рис.</text>
<text x="249.4" y="817.7" font-size="26" textLength="32" lengthAdjust="spacingAndGlyphs">23.</text>
<text x="290" y="817.7" font-size="26" textLength="50.6" lengthAdjust="spacingAndGlyphs">Удар</text>
<text x="348.2" y="817.7" font-size="26" textLength="55.2" lengthAdjust="spacingAndGlyphs">слева</text>
</g>

</svg></body></html>
